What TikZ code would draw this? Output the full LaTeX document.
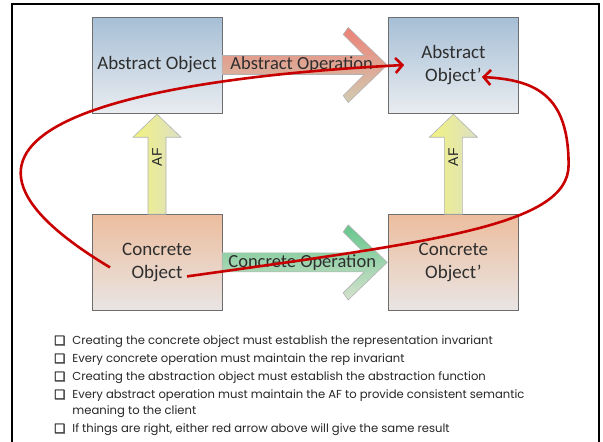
\documentclass[tikz,border=0pt]{standalone}
\usepackage{fontspec}
\setmainfont{Carlito}
\newfontfamily\notefont{Poppins}
\newfontfamily\boxglyph[FakeBold=2.5]{DejaVu Sans}
\newfontfamily\afont{Liberation Sans}
\usetikzlibrary{positioning,calc,arrows.meta}
\definecolor{absTop}{RGB}{166,191,214}
\definecolor{absBot}{RGB}{233,236,240}
\definecolor{concTop}{RGB}{236,189,158}
\definecolor{concBot}{RGB}{233,229,228}
\definecolor{boxline}{RGB}{110,110,110}
\definecolor{opRedTop}{RGB}{236,128,118}
\definecolor{opRedMid}{RGB}{232,152,140}
\definecolor{opRedBot}{RGB}{210,204,178}
\definecolor{opGreenTop}{RGB}{100,198,140}
\definecolor{opGreenMid}{RGB}{142,208,164}
\definecolor{opGreenBot}{RGB}{214,226,206}
\definecolor{afLeft}{RGB}{242,242,128}
\definecolor{afRight}{RGB}{220,224,196}
\definecolor{curveRed}{RGB}{200,0,0}

\begin{document}
\begin{tikzpicture}[x=1pt, y=-1pt,
    objbox/.style={draw=boxline, minimum width=130pt, minimum height=96pt, inner sep=2pt,
        align=center, text=black!82, font=\fontsize{19}{23}\selectfont},
    absbox/.style={objbox, top color=absTop, bottom color=absBot},
    concbox/.style={objbox, top color=concTop, bottom color=concBot},
    fatarrow/.style={draw=gray!60, line width=0.6pt},
    oplabel/.style={anchor=west, inner sep=0pt, text=black!82, font=\fontsize{18.5}{22}\selectfont},
    aflabel/.style={rotate=90, inner sep=0pt, text=black!85, font=\afont\fontsize{14}{16}\selectfont},
    redpath/.style={draw=curveRed, line width=2.6pt, -{Straight Barb[length=7pt, width=15pt]}},
    notes/.style={anchor=north west, inner sep=0pt, text=black!85, font=\notefont\fontsize{11.6}{18}\selectfont}]

    \useasboundingbox (0,0) rectangle (603,442);

    % Rahmen
    \draw[line width=2.5pt] (12,442) -- (12,4) -- (599,4) -- (599,442);

    % Objekte
    \node[absbox] (absobj) at (157,65) {Abstract Object};
    \node[absbox, right=166pt of absobj] (absobjp) {Abstract\\Object’};
    \node[concbox, below=101pt of absobj] (concobj) {Concrete\\Object};
    \node[concbox, right=166pt of concobj] (concobjp) {Concrete\\Object’};

    % Operationen
    \shadedraw[fatarrow, top color=opRedTop, middle color=opRedMid, bottom color=opRedBot]
        (absobj.east) ++(0,-9.5) -- ++(142,0) -- ++(-21,-21) -- ++(5,-7) -- ++(39,37.5)
        -- ++(-39,37.5) -- ++(-5,-7) -- ++(21,-21) -- ++(-142,0) -- cycle;
    \node[oplabel] (absoplbl) at ($(absobj.east)+(8,0)$) {Abstract Operation};

    \shadedraw[fatarrow, top color=opGreenTop, middle color=opGreenMid, bottom color=opGreenBot]
        (concobj.east) ++(0,-9.5) -- ++(142,0) -- ++(-21,-21) -- ++(5,-7) -- ++(39,37.5)
        -- ++(-39,37.5) -- ++(-5,-7) -- ++(21,-21) -- ++(-142,0) -- cycle;
    \node[oplabel] (concoplbl) at ($(concobj.east)+(6,0)$) {Concrete Operation};

    % AF
    \shadedraw[fatarrow, left color=afLeft, right color=afRight]
        (concobj.north) ++(-9,0) -- ++(0,-77) -- ++(-15,0) -- ++(24,-23) -- ++(24,23)
        -- ++(-15,0) -- ++(0,77) -- cycle;
    \node[aflabel] (afleft) at ($(concobj.north)+(0,-57)$) {AF};
    \shadedraw[fatarrow, left color=afLeft, right color=afRight]
        (concobjp.north) ++(-9,0) -- ++(0,-77) -- ++(-15,0) -- ++(24,-23) -- ++(24,23)
        -- ++(-15,0) -- ++(0,77) -- cycle;
    \node[aflabel] (afright) at ($(concobjp.north)+(0,-57)$) {AF};

    % rote Pfeile
    \coordinate (c1s) at ($(concobj.center)+(-47,5)$);
    \coordinate (c1e) at ($(absobjp.west)+(16,0)$);
    \coordinate (c2s) at ($(concobj.center)+(30,14)$);
    \coordinate (c2m) at ($(absobjp.east)+(50,100)$);
    \coordinate (c2e) at ($(absobjp.center)+(28.5,12)$);
    \draw[redpath] (c1s) .. controls +(-235,-141) and +(-254,13) .. (c1e);
    \draw[redpath] (c2s) .. controls +(250,-35) and +(0,60) .. (c2m)
        .. controls +(0,-70) and +(54,3) .. (c2e);

    % Liste
    \node[notes] (notes) at (54,332) {%
        \begin{tabular}{@{}l@{\hspace{7pt}}l@{}}
        {\boxglyph\fontsize{12.5}{18}\selectfont ❑} & Creating the concrete object must establish the representation invariant\\
        {\boxglyph\fontsize{12.5}{18}\selectfont ❑} & Every concrete operation must maintain the rep invariant\\
        {\boxglyph\fontsize{12.5}{18}\selectfont ❑} & Creating the abstraction object must establish the abstraction function\\
        {\boxglyph\fontsize{12.5}{18}\selectfont ❑} & Every abstract operation must maintain the AF to provide consistent semantic\\[-2pt]
                      & meaning to the client\\
        {\boxglyph\fontsize{12.5}{18}\selectfont ❑} & If things are right, either red arrow above will give the same result
        \end{tabular}};
\end{tikzpicture}
\end{document}
